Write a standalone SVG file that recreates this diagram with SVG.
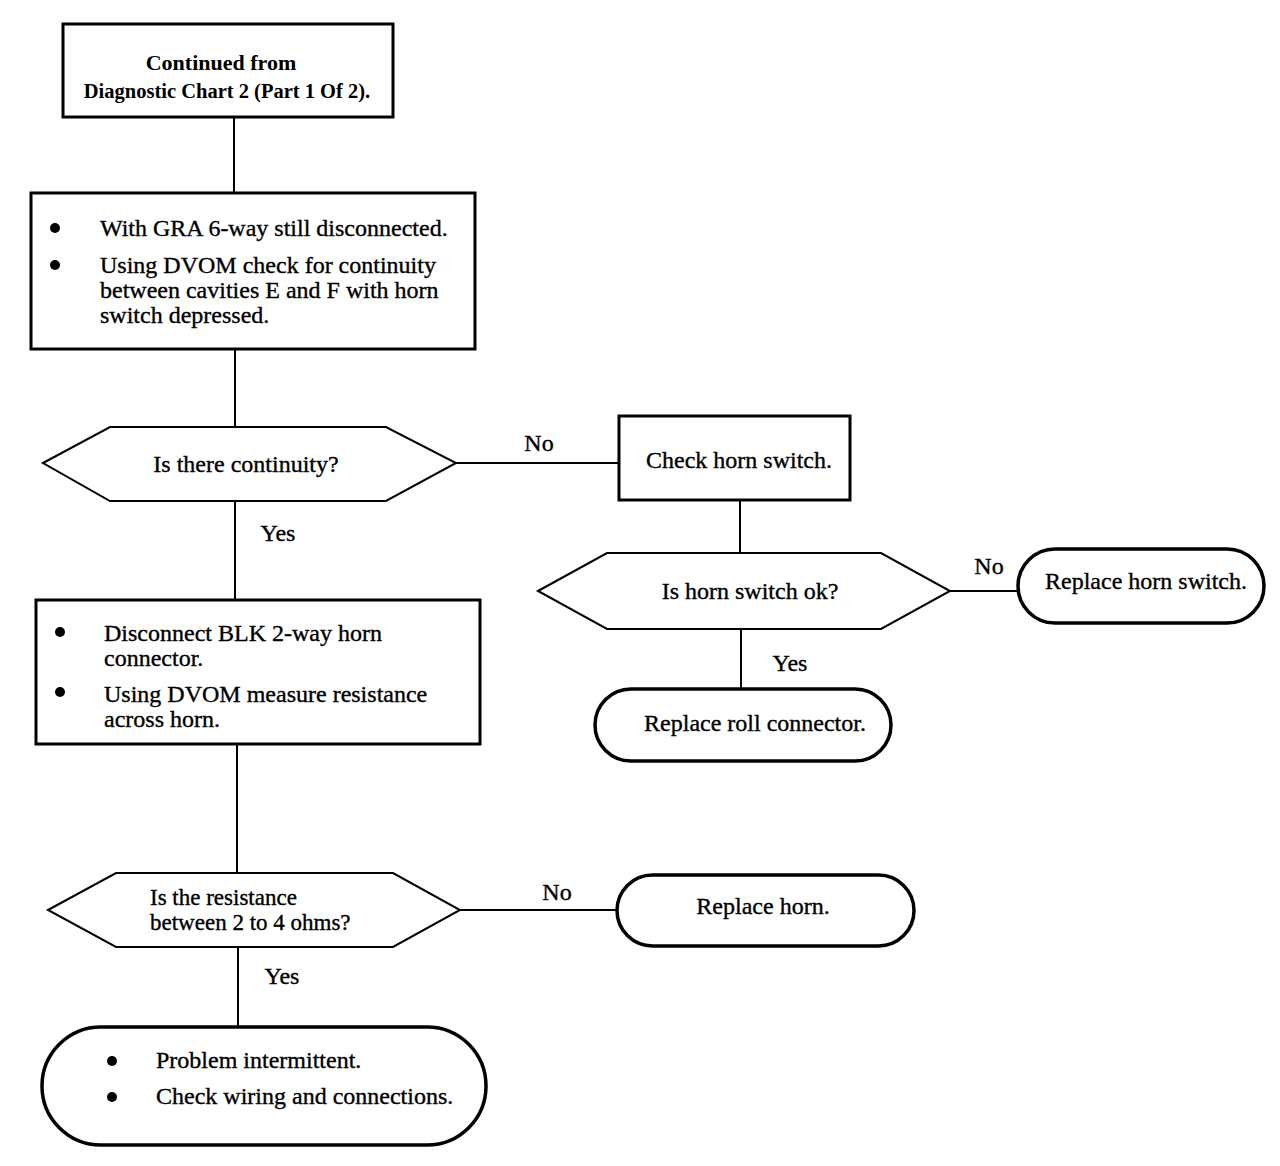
<svg xmlns="http://www.w3.org/2000/svg" width="1280" height="1166" viewBox="0 0 1280 1166">
<style>
text{font-family:"Liberation Serif","Times New Roman",serif;font-size:24px;fill:#000;stroke:#000;stroke-width:0.35}
.b{font-weight:bold;font-size:22px;stroke-width:0}
.b2{font-weight:bold;font-size:20.5px;stroke-width:0}
.s{font-size:23px}
.box{fill:#fff;stroke:#000;stroke-width:3}
.hex{fill:#fff;stroke:#000;stroke-width:2}
.ov{fill:#fff;stroke:#000;stroke-width:3.5}
.ln{stroke:#000;stroke-width:2;fill:none}
.c{text-anchor:middle}
</style>
<rect width="1280" height="1166" fill="#fff"/>
<g id="connectors">
<line class="ln" x1="234" y1="117" x2="234" y2="193"/>
<line class="ln" x1="235" y1="349" x2="235" y2="427"/>
<line class="ln" x1="456" y1="463" x2="619" y2="463"/>
<line class="ln" x1="235" y1="501" x2="235" y2="600"/>
<line class="ln" x1="740" y1="500" x2="740" y2="553"/>
<line class="ln" x1="950" y1="591" x2="1018" y2="591"/>
<line class="ln" x1="741" y1="629" x2="741" y2="689"/>
<line class="ln" x1="237" y1="744" x2="237" y2="873"/>
<line class="ln" x1="460" y1="910" x2="617" y2="910"/>
<line class="ln" x1="238" y1="946" x2="238" y2="1027"/>
<text x="539" y="451" class="c">No</text>
<text x="278" y="541" class="c">Yes</text>
<text x="989" y="574" class="c">No</text>
<text x="790" y="671" class="c">Yes</text>
<text x="557" y="900" class="c">No</text>
<text x="282" y="984" class="c">Yes</text>
</g>
<g id="start">
<rect class="box" x="63" y="24" width="330" height="93"/>
<text x="221" y="70" class="b c">Continued from</text>
<text x="227" y="98" class="b2 c">Diagnostic Chart 2 (Part 1 Of 2).</text>
</g>
<g id="step1">
<rect class="box" x="31" y="193" width="444" height="156"/>
<circle cx="55" cy="228" r="5"/>
<circle cx="55" cy="265" r="5"/>
<text x="100" y="236">With GRA 6-way still disconnected.</text>
<text x="100" y="273">Using DVOM check for continuity</text>
<text x="100" y="298">between cavities E and F with horn</text>
<text x="100" y="323">switch depressed.</text>
</g>
<g id="q1">
<polygon class="hex" points="43,463 110,427 386,427 456,463 386,501 110,501"/>
<text x="246" y="472" class="c">Is there continuity?</text>
</g>
<g id="checkSwitch">
<rect class="box" x="619" y="416" width="231" height="84"/>
<text x="739" y="468" class="c">Check horn switch.</text>
</g>
<g id="q2">
<polygon class="hex" points="538,591 607,553 881,553 950,591 881,629 607,629"/>
<text x="750" y="599" class="c">Is horn switch ok?</text>
</g>
<g id="replaceSwitch">
<rect class="ov" x="1018" y="549" width="246" height="74" rx="37" ry="37"/>
<text x="1146" y="589" class="c">Replace horn switch.</text>
</g>
<g id="replaceRoll">
<rect class="ov" x="595" y="689" width="296" height="72" rx="36" ry="36"/>
<text x="755" y="731" class="c">Replace roll connector.</text>
</g>
<g id="step2">
<rect class="box" x="36" y="600" width="444" height="144"/>
<circle cx="60" cy="632" r="5"/>
<circle cx="60" cy="692" r="5"/>
<text x="104" y="641">Disconnect BLK 2-way horn</text>
<text x="104" y="666">connector.</text>
<text x="104" y="702">Using DVOM measure resistance</text>
<text x="104" y="727">across horn.</text>
</g>
<g id="q3">
<polygon class="hex" points="48,910 116,873 393,873 460,910 393,947 116,947"/>
<text x="150" y="905" class="s">Is the resistance</text>
<text x="150" y="930" class="s">between 2 to 4 ohms?</text>
</g>
<g id="replaceHorn">
<rect class="ov" x="617" y="875" width="297" height="71" rx="35.5" ry="35.5"/>
<text x="763" y="914" class="c">Replace horn.</text>
</g>
<g id="end">
<rect class="ov" x="42" y="1027" width="444" height="118" rx="59" ry="59"/>
<circle cx="112" cy="1061" r="5"/>
<circle cx="112" cy="1097" r="5"/>
<text x="156" y="1068">Problem intermittent.</text>
<text x="156" y="1104">Check wiring and connections.</text>
</g>
</svg>
